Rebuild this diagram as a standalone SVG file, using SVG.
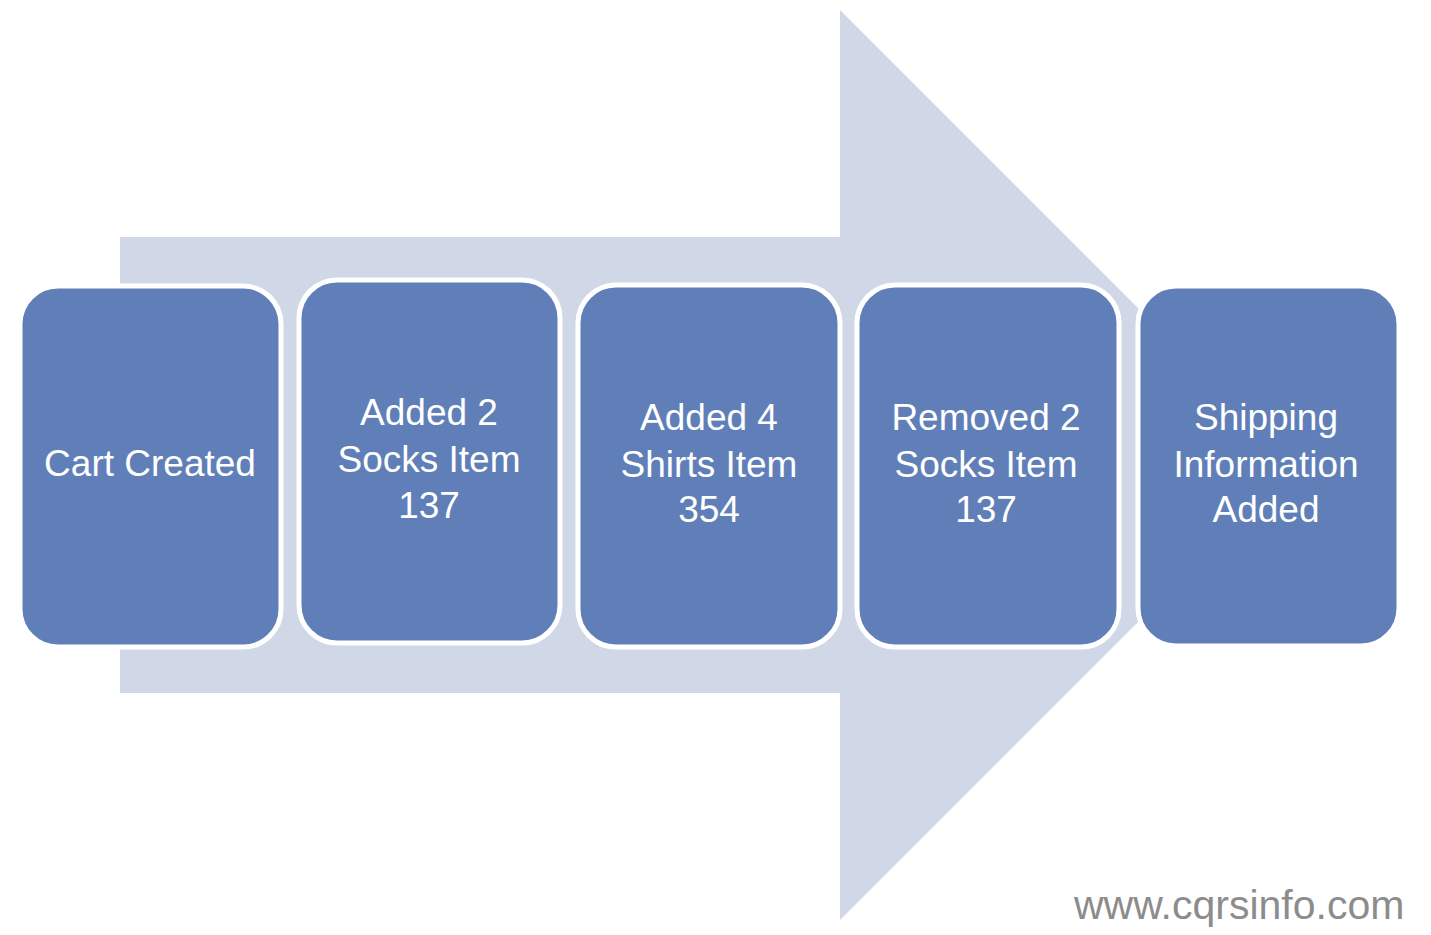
<svg xmlns="http://www.w3.org/2000/svg" width="1431" height="935" viewBox="0 0 1431 935">
  <style>
    .box { fill: #607FB8; stroke: #FFFFFF; stroke-width: 5; }
    .lbl { font-family: "Liberation Sans", Arial, sans-serif; font-size: 37px; fill: #FFFFFF; text-anchor: middle; }
    .wm { font-family: "Liberation Sans", Arial, sans-serif; font-size: 41px; fill: #8C8C8C; }
  </style>
  <rect width="1431" height="935" fill="#FFFFFF"/>
  <g id="connectors">
    <polygon id="big-arrow" points="120,237 840,237 840,10 1295,465 840,920 840,693 120,693" fill="#D0D8E8"/>
  </g>
  <g id="node-cart-created">
    <rect class="box" x="20" y="286" width="261" height="361" rx="38" ry="38"/>
    <text class="lbl" x="150" y="476">Cart Created</text>
  </g>
  <g id="node-added-socks">
    <rect class="box" x="299" y="280" width="261" height="363" rx="38" ry="38"/>
    <text class="lbl" x="429" y="425">Added 2</text>
    <text class="lbl" x="429" y="472">Socks Item</text>
    <text class="lbl" x="429" y="518">137</text>
  </g>
  <g id="node-added-shirts">
    <rect class="box" x="578" y="285" width="262" height="362" rx="38" ry="38"/>
    <text class="lbl" x="709" y="430">Added 4</text>
    <text class="lbl" x="709" y="477">Shirts Item</text>
    <text class="lbl" x="709" y="522">354</text>
  </g>
  <g id="node-removed-socks">
    <rect class="box" x="857" y="285" width="262" height="362" rx="38" ry="38"/>
    <text class="lbl" x="986" y="430">Removed 2</text>
    <text class="lbl" x="986" y="477">Socks Item</text>
    <text class="lbl" x="986" y="522">137</text>
  </g>
  <g id="node-shipping">
    <rect class="box" x="1138" y="286" width="261" height="360" rx="38" ry="38"/>
    <text class="lbl" x="1266" y="430">Shipping</text>
    <text class="lbl" x="1266" y="477">Information</text>
    <text class="lbl" x="1266" y="522">Added</text>
  </g>
  <text class="wm" x="1074" y="919">www.cqrsinfo.com</text>
</svg>
